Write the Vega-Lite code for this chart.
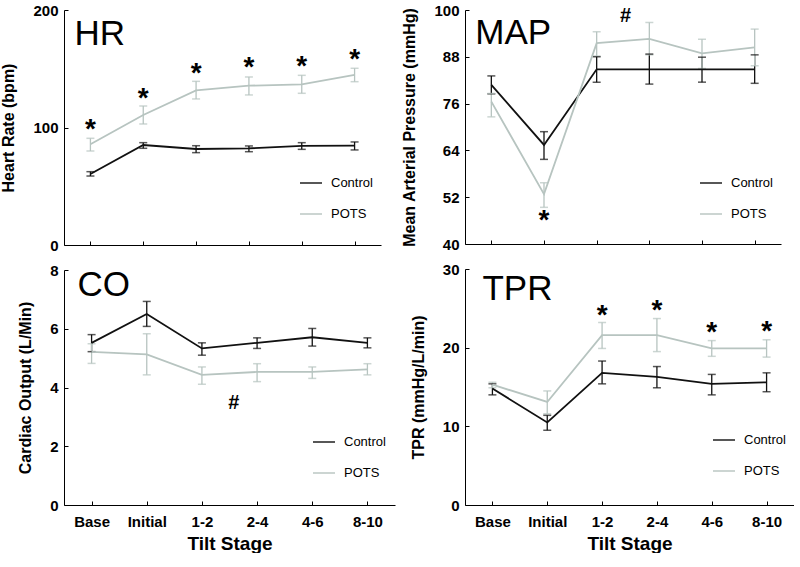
{
  "$schema": "https://vega.github.io/schema/vega-lite/v6.json",
  "padding": {"left": 0, "top": 3, "right": 0, "bottom": 0},
  "background": "white",
  "config": {
    "font": "Liberation Sans",
    "view": {"stroke": null},
    "axis": {"grid": false, "domainColor": "#000", "domainWidth": 1, "tickColor": "#000", "tickWidth": 1, "tickSize": -4, "labelFont": "Liberation Sans", "labelFontWeight": "bold", "labelFontSize": 15, "labelColor": "#000", "labelPadding": 10, "titleFont": "Liberation Sans", "titleFontWeight": "bold", "titleColor": "#000"},
    "axisY": {"titleFontSize": 16, "titlePadding": 16},
    "axisX": {"titleFontSize": 19, "labelAngle": 0, "labelPadding": 13, "titlePadding": 5},
    "legend": {"symbolType": "stroke", "symbolSize": 484, "symbolStrokeWidth": 2, "labelFont": "Liberation Sans", "labelFontSize": 13, "labelColor": "#000", "rowPadding": 12, "labelOffset": 8, "padding": 0}
  },
  "datasets": {
    "hr": [
      {"stage": "Base", "group": "Control", "mean": 60.4, "lo": 58.7, "hi": 62.4},
      {"stage": "Initial", "group": "Control", "mean": 85.1, "lo": 82.3, "hi": 87.1},
      {"stage": "1-2", "group": "Control", "mean": 81.7, "lo": 78.6, "hi": 84.5},
      {"stage": "2-4", "group": "Control", "mean": 82.3, "lo": 79.4, "hi": 84.3},
      {"stage": "4-6", "group": "Control", "mean": 84.3, "lo": 81.4, "hi": 87.1},
      {"stage": "8-10", "group": "Control", "mean": 84.5, "lo": 80.9, "hi": 87.7},
      {"stage": "Base", "group": "POTS", "mean": 85.7, "lo": 80.0, "hi": 90.8},
      {"stage": "Initial", "group": "POTS", "mean": 110.6, "lo": 103.0, "hi": 118.3},
      {"stage": "1-2", "group": "POTS", "mean": 131.6, "lo": 124.3, "hi": 139.3},
      {"stage": "2-4", "group": "POTS", "mean": 135.6, "lo": 127.7, "hi": 143.0},
      {"stage": "4-6", "group": "POTS", "mean": 136.7, "lo": 129.1, "hi": 144.4},
      {"stage": "8-10", "group": "POTS", "mean": 144.7, "lo": 139.0, "hi": 150.4}
    ],
    "map": [
      {"stage": "Base", "group": "Control", "mean": 80.8, "lo": 78.5, "hi": 83.1},
      {"stage": "Initial", "group": "Control", "mean": 65.4, "lo": 61.7, "hi": 68.8},
      {"stage": "1-2", "group": "Control", "mean": 84.8, "lo": 81.5, "hi": 88.0},
      {"stage": "2-4", "group": "Control", "mean": 84.8, "lo": 81.0, "hi": 88.7},
      {"stage": "4-6", "group": "Control", "mean": 84.8, "lo": 81.5, "hi": 87.9},
      {"stage": "8-10", "group": "Control", "mean": 84.8, "lo": 81.2, "hi": 88.5},
      {"stage": "Base", "group": "POTS", "mean": 76.5, "lo": 72.6, "hi": 78.6},
      {"stage": "Initial", "group": "POTS", "mean": 52.8, "lo": 49.4, "hi": 55.7},
      {"stage": "1-2", "group": "POTS", "mean": 91.5, "lo": 88.2, "hi": 94.4},
      {"stage": "2-4", "group": "POTS", "mean": 92.6, "lo": 88.5, "hi": 96.8},
      {"stage": "4-6", "group": "POTS", "mean": 88.9, "lo": 85.0, "hi": 92.5},
      {"stage": "8-10", "group": "POTS", "mean": 90.4, "lo": 85.7, "hi": 95.1}
    ],
    "co": [
      {"stage": "Base", "group": "Control", "mean": 5.52, "lo": 5.22, "hi": 5.80},
      {"stage": "Initial", "group": "Control", "mean": 6.50, "lo": 6.08, "hi": 6.93},
      {"stage": "1-2", "group": "Control", "mean": 5.33, "lo": 5.10, "hi": 5.52},
      {"stage": "2-4", "group": "Control", "mean": 5.52, "lo": 5.33, "hi": 5.69},
      {"stage": "4-6", "group": "Control", "mean": 5.71, "lo": 5.41, "hi": 6.01},
      {"stage": "8-10", "group": "Control", "mean": 5.52, "lo": 5.35, "hi": 5.69},
      {"stage": "Base", "group": "POTS", "mean": 5.21, "lo": 4.82, "hi": 5.49},
      {"stage": "Initial", "group": "POTS", "mean": 5.13, "lo": 4.43, "hi": 5.83},
      {"stage": "1-2", "group": "POTS", "mean": 4.43, "lo": 4.11, "hi": 4.70},
      {"stage": "2-4", "group": "POTS", "mean": 4.53, "lo": 4.20, "hi": 4.81},
      {"stage": "4-6", "group": "POTS", "mean": 4.53, "lo": 4.31, "hi": 4.70},
      {"stage": "8-10", "group": "POTS", "mean": 4.62, "lo": 4.43, "hi": 4.81}
    ],
    "tpr": [
      {"stage": "Base", "group": "Control", "mean": 14.8, "lo": 14.0, "hi": 15.4},
      {"stage": "Initial", "group": "Control", "mean": 10.5, "lo": 9.5, "hi": 11.4},
      {"stage": "1-2", "group": "Control", "mean": 16.8, "lo": 15.4, "hi": 18.3},
      {"stage": "2-4", "group": "Control", "mean": 16.3, "lo": 14.9, "hi": 17.6},
      {"stage": "4-6", "group": "Control", "mean": 15.4, "lo": 14.0, "hi": 16.6},
      {"stage": "8-10", "group": "Control", "mean": 15.6, "lo": 14.4, "hi": 16.8},
      {"stage": "Base", "group": "POTS", "mean": 15.3, "lo": 14.9, "hi": 15.6},
      {"stage": "Initial", "group": "POTS", "mean": 13.1, "lo": 11.6, "hi": 14.5},
      {"stage": "1-2", "group": "POTS", "mean": 21.6, "lo": 19.9, "hi": 23.2},
      {"stage": "2-4", "group": "POTS", "mean": 21.6, "lo": 19.5, "hi": 23.7},
      {"stage": "4-6", "group": "POTS", "mean": 19.9, "lo": 18.9, "hi": 20.9},
      {"stage": "8-10", "group": "POTS", "mean": 19.9, "lo": 18.8, "hi": 21.0}
    ],
    "ann": [
      {"panel": "HR", "stage": "Base", "sym": "*", "y": 102},
      {"panel": "HR", "stage": "Initial", "sym": "*", "y": 128.5},
      {"panel": "HR", "stage": "1-2", "sym": "*", "y": 149.8},
      {"panel": "HR", "stage": "2-4", "sym": "*", "y": 154.6},
      {"panel": "HR", "stage": "4-6", "sym": "*", "y": 155.5},
      {"panel": "HR", "stage": "8-10", "sym": "*", "y": 161.7},
      {"panel": "MAP", "stage": "Initial", "sym": "*", "y": 47.1},
      {"panel": "MAP", "stage": "1-2", "sym": "#", "y": 98.7},
      {"panel": "CO", "stage": "1-2", "sym": "#", "y": 3.6},
      {"panel": "TPR", "stage": "1-2", "sym": "*", "y": 24.7},
      {"panel": "TPR", "stage": "2-4", "sym": "*", "y": 25.35},
      {"panel": "TPR", "stage": "4-6", "sym": "*", "y": 22.5},
      {"panel": "TPR", "stage": "8-10", "sym": "*", "y": 22.6}
    ]
  },
  "resolve": {"scale": {"color": "shared"}, "legend": {"color": "independent"}},
  "spacing": 6,
  "hconcat": [
    {
      "spacing": 10,
      "resolve": {"scale": {"color": "shared"}, "legend": {"color": "independent"}},
      "vconcat": [
        {
          "width": 317, "height": 235,
          "data": {"name": "hr"},
          "encoding": {
            "x": {"field": "stage", "type": "ordinal", "scale": {"type": "point", "padding": 0.5, "domain": ["Base", "Initial", "1-2", "2-4", "4-6", "8-10"]}, "axis": {"labels": false, "title": null}},
            "color": {"field": "group", "type": "nominal", "scale": {"domain": ["Control", "POTS"], "range": ["#111111", "#b7c4c0"]}, "legend": {"title": null, "orient": "none", "legendX": 235, "legendY": 161}}
          },
          "layer": [
            {"mark": {"type": "rule", "strokeWidth": 1.3}, "encoding": {"y": {"field": "lo", "type": "quantitative", "title": "Heart Rate (bpm)", "scale": {"domain": [0, 200]}}, "y2": {"field": "hi"}}},
            {"mark": {"type": "tick", "size": 8, "thickness": 1.5}, "encoding": {"y": {"field": "lo", "type": "quantitative", "title": "Heart Rate (bpm)", "scale": {"domain": [0, 200]}}}},
            {"mark": {"type": "tick", "size": 8, "thickness": 1.5}, "encoding": {"y": {"field": "hi", "type": "quantitative", "title": "Heart Rate (bpm)", "scale": {"domain": [0, 200]}}}},
            {"mark": {"type": "line", "strokeWidth": 1.8}, "encoding": {"y": {"field": "mean", "type": "quantitative", "title": "Heart Rate (bpm)", "scale": {"domain": [0, 200]}, "axis": {"values": [0, 100, 200]}}}},
            {"data": {"name": "ann"}, "transform": [{"filter": "datum.panel === 'HR'"}], "mark": {"type": "text", "fontSize": 28, "fontWeight": "bold", "dy": 5}, "encoding": {"y": {"field": "y", "type": "quantitative", "title": "Heart Rate (bpm)", "scale": {"domain": [0, 200]}}, "text": {"field": "sym"}, "color": {"value": "#000"}}},
            {"data": {"values": [{"label": "HR"}]}, "mark": {"type": "text", "fontSize": 35, "align": "left", "baseline": "alphabetic", "dx": -16, "dy": 35}, "encoding": {"x": {"datum": "Base"}, "y": {"datum": 200, "scale": {"domain": [0, 200]}}, "text": {"field": "label"}, "color": {"value": "#000"}}}
          ]
        },
        {
          "width": 331, "height": 235,
          "data": {"name": "co"},
          "encoding": {
            "x": {"field": "stage", "type": "ordinal", "scale": {"type": "point", "padding": 0.5, "domain": ["Base", "Initial", "1-2", "2-4", "4-6", "8-10"]}, "axis": {"title": "Tilt Stage"}},
            "color": {"field": "group", "type": "nominal", "scale": {"domain": ["Control", "POTS"], "range": ["#111111", "#b7c4c0"]}, "legend": {"title": null, "orient": "none", "legendX": 248, "legendY": 160}}
          },
          "layer": [
            {"mark": {"type": "rule", "strokeWidth": 1.3}, "encoding": {"y": {"field": "lo", "type": "quantitative", "title": "Cardiac Output (L/Min)", "scale": {"domain": [0, 8]}}, "y2": {"field": "hi"}}},
            {"mark": {"type": "tick", "size": 8, "thickness": 1.5}, "encoding": {"y": {"field": "lo", "type": "quantitative", "title": "Cardiac Output (L/Min)", "scale": {"domain": [0, 8]}}}},
            {"mark": {"type": "tick", "size": 8, "thickness": 1.5}, "encoding": {"y": {"field": "hi", "type": "quantitative", "title": "Cardiac Output (L/Min)", "scale": {"domain": [0, 8]}}}},
            {"mark": {"type": "line", "strokeWidth": 1.8}, "encoding": {"y": {"field": "mean", "type": "quantitative", "title": "Cardiac Output (L/Min)", "scale": {"domain": [0, 8]}, "axis": {"values": [0, 1, 2, 3, 4, 5, 6, 7, 8]}}}},
            {"data": {"name": "ann"}, "transform": [{"filter": "datum.panel === 'CO'"}], "mark": {"type": "text", "fontSize": 20, "fontWeight": "bold", "dx": 32, "dy": 4}, "encoding": {"y": {"field": "y", "type": "quantitative", "title": "Cardiac Output (L/Min)", "scale": {"domain": [0, 8]}}, "text": {"field": "sym"}, "color": {"value": "#000"}}},
            {"data": {"values": [{"label": "CO"}]}, "mark": {"type": "text", "fontSize": 35, "align": "left", "baseline": "alphabetic", "dx": -14, "dy": 26}, "encoding": {"x": {"datum": "Base"}, "y": {"datum": 8, "scale": {"domain": [0, 8]}}, "text": {"field": "label"}, "color": {"value": "#000"}}}
          ]
        }
      ]
    },
    {
      "spacing": 10,
      "resolve": {"scale": {"color": "shared"}, "legend": {"color": "independent"}},
      "vconcat": [
        {
          "width": 316, "height": 234,
          "data": {"name": "map"},
          "encoding": {
            "x": {"field": "stage", "type": "ordinal", "scale": {"type": "point", "padding": 0.5, "domain": ["Base", "Initial", "1-2", "2-4", "4-6", "8-10"]}, "axis": {"labels": false, "title": null}},
            "color": {"field": "group", "type": "nominal", "scale": {"domain": ["Control", "POTS"], "range": ["#111111", "#b7c4c0"]}, "legend": {"title": null, "orient": "none", "legendX": 234, "legendY": 161}}
          },
          "layer": [
            {"mark": {"type": "rule", "strokeWidth": 1.3}, "encoding": {"y": {"field": "lo", "type": "quantitative", "title": "Mean Arterial Pressure (mmHg)", "scale": {"domain": [40, 100]}}, "y2": {"field": "hi"}}},
            {"mark": {"type": "tick", "size": 8, "thickness": 1.5}, "encoding": {"y": {"field": "lo", "type": "quantitative", "title": "Mean Arterial Pressure (mmHg)", "scale": {"domain": [40, 100]}}}},
            {"mark": {"type": "tick", "size": 8, "thickness": 1.5}, "encoding": {"y": {"field": "hi", "type": "quantitative", "title": "Mean Arterial Pressure (mmHg)", "scale": {"domain": [40, 100]}}}},
            {"mark": {"type": "line", "strokeWidth": 1.8}, "encoding": {"y": {"field": "mean", "type": "quantitative", "title": "Mean Arterial Pressure (mmHg)", "scale": {"domain": [40, 100]}, "axis": {"values": [40, 52, 64, 76, 88, 100]}}}},
            {"data": {"name": "ann"}, "transform": [{"filter": "datum.panel === 'MAP' && datum.sym === '*'"}], "mark": {"type": "text", "fontSize": 28, "fontWeight": "bold", "dy": 5}, "encoding": {"y": {"field": "y", "type": "quantitative", "title": "Mean Arterial Pressure (mmHg)", "scale": {"domain": [40, 100]}}, "text": {"field": "sym"}, "color": {"value": "#000"}}},
            {"data": {"name": "ann"}, "transform": [{"filter": "datum.panel === 'MAP' && datum.sym === '#'"}], "mark": {"type": "text", "fontSize": 20, "fontWeight": "bold", "dx": 29, "dy": 1}, "encoding": {"y": {"field": "y", "type": "quantitative", "title": "Mean Arterial Pressure (mmHg)", "scale": {"domain": [40, 100]}}, "text": {"field": "sym"}, "color": {"value": "#000"}}},
            {"data": {"values": [{"label": "MAP"}]}, "mark": {"type": "text", "fontSize": 35, "align": "left", "baseline": "alphabetic", "dx": -16, "dy": 34}, "encoding": {"x": {"datum": "Base"}, "y": {"datum": 100, "scale": {"domain": [40, 100]}}, "text": {"field": "label"}, "color": {"value": "#000"}}}
          ]
        },
        {
          "width": 329, "height": 236,
          "data": {"name": "tpr"},
          "encoding": {
            "x": {"field": "stage", "type": "ordinal", "scale": {"type": "point", "padding": 0.5, "domain": ["Base", "Initial", "1-2", "2-4", "4-6", "8-10"]}, "axis": {"title": "Tilt Stage"}},
            "color": {"field": "group", "type": "nominal", "scale": {"domain": ["Control", "POTS"], "range": ["#111111", "#b7c4c0"]}, "legend": {"title": null, "orient": "none", "legendX": 247, "legendY": 159}}
          },
          "layer": [
            {"mark": {"type": "rule", "strokeWidth": 1.3}, "encoding": {"y": {"field": "lo", "type": "quantitative", "title": "TPR (mmHg/L/min)", "scale": {"domain": [0, 30]}}, "y2": {"field": "hi"}}},
            {"mark": {"type": "tick", "size": 8, "thickness": 1.5}, "encoding": {"y": {"field": "lo", "type": "quantitative", "title": "TPR (mmHg/L/min)", "scale": {"domain": [0, 30]}}}},
            {"mark": {"type": "tick", "size": 8, "thickness": 1.5}, "encoding": {"y": {"field": "hi", "type": "quantitative", "title": "TPR (mmHg/L/min)", "scale": {"domain": [0, 30]}}}},
            {"mark": {"type": "line", "strokeWidth": 1.8}, "encoding": {"y": {"field": "mean", "type": "quantitative", "title": "TPR (mmHg/L/min)", "scale": {"domain": [0, 30]}, "axis": {"values": [0, 10, 20, 30]}}}},
            {"data": {"name": "ann"}, "transform": [{"filter": "datum.panel === 'TPR'"}], "mark": {"type": "text", "fontSize": 28, "fontWeight": "bold", "dy": 5}, "encoding": {"y": {"field": "y", "type": "quantitative", "title": "TPR (mmHg/L/min)", "scale": {"domain": [0, 30]}}, "text": {"field": "sym"}, "color": {"value": "#000"}}},
            {"data": {"values": [{"label": "TPR"}]}, "mark": {"type": "text", "fontSize": 35, "align": "left", "baseline": "alphabetic", "dx": -10, "dy": 31}, "encoding": {"x": {"datum": "Base"}, "y": {"datum": 30, "scale": {"domain": [0, 30]}}, "text": {"field": "label"}, "color": {"value": "#000"}}}
          ]
        }
      ]
    }
  ]
}
